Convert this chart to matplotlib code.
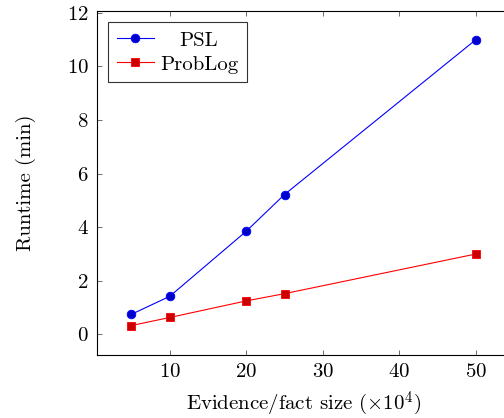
import matplotlib
matplotlib.use("Agg")
import matplotlib.pyplot as plt

plt.rcParams.update({
    "font.family": "serif",
    "font.serif": ["cmr10"],
    "mathtext.fontset": "cm",
    "axes.formatter.use_mathtext": True,
    "font.size": 15,
    "axes.linewidth": 0.8,
    "xtick.direction": "in", "ytick.direction": "in",
    "xtick.top": True, "ytick.right": True,
    "xtick.major.size": 3.5, "ytick.major.size": 3.5,
    "xtick.major.width": 0.6, "ytick.major.width": 0.6,
    "xtick.major.pad": 6, "ytick.major.pad": 6,
    "xtick.color": "#555555", "ytick.color": "#555555",
    "xtick.labelcolor": "black", "ytick.labelcolor": "black",
})

sizes = [5, 10, 20, 25, 50]
psl = [0.75, 1.42, 3.85, 5.22, 11.0]
problog = [0.33, 0.63, 1.25, 1.52, 3.0]
xticks = [10, 20, 30, 40, 50]
yticks = [0, 2, 4, 6, 8, 10, 12]

fig = plt.figure(figsize=(5.04, 4.18), dpi=100)
ax = fig.add_axes([0.1925, 0.1507, 0.82, 0.823])

ax.plot(sizes, psl, color="blue", lw=0.8, marker="o", ms=6.2,
        mfc=(0, 0, 0.8), mec="blue", mew=0.6, label="PSL")
ax.plot(sizes, problog, color="red", lw=0.8, marker="s", ms=6,
        mfc=(0.8, 0, 0), mec="red", mew=0.6, label="ProbLog")

ax.set_xlim(0.5, 54.5)
ax.set_ylim(-0.77, 12.07)
ax.set_xticks(xticks)
ax.set_yticks(yticks)
ax.set_xlabel(r"Evidence/fact size ($\times10^4$)", labelpad=6)
ax.set_ylabel("Runtime (min)", labelpad=22)

leg = ax.legend(loc="upper left", fancybox=False, framealpha=1,
                edgecolor="#333333", borderaxespad=0.55, handlelength=1.75,
                borderpad=0.42, labelspacing=0.25, handletextpad=0.3)
leg.get_frame().set_linewidth(0.8)

# pgfplots centres legend entries: shift the shorter label to the middle
fig.canvas.draw()
texts = leg.get_texts()
widths = [t.get_window_extent().width for t in texts]
texts[0].set_x((max(widths) - widths[0]) / 2)

fig.savefig("out.png", dpi=100)
